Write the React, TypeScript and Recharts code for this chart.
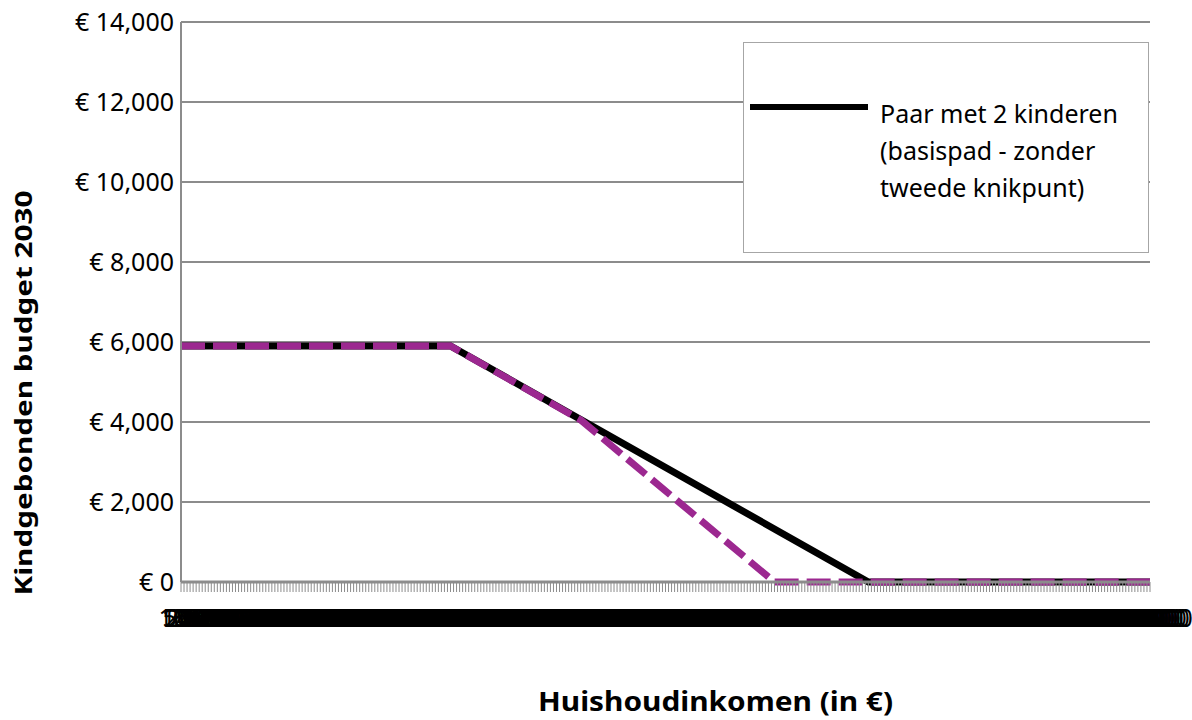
import { LineChart, Line, XAxis, YAxis, CartesianGrid, Legend, Label } from 'recharts'

// huishoudinkomen categories on the x-axis (every € 500)
const incomeTicks = Array.from({ length: 321 }, (_, i) => i * 500)
const budgetTicks = [0, 2000, 4000, 6000, 8000, 10000, 12000, 14000]

// Paar met 2 kinderen (basispad)
const basispadIncome = [0, 44500, 113500, 160000]
const basispadBudget = [5900, 5900, 0, 0]

// variant met tweede knikpunt
const knikIncome = [0, 44500, 66000, 98000, 160000]
const knikBudget = [5900, 5900, 4050, 0, 0]

const legendLines = ['Paar met 2 kinderen', '(basispad - zonder', 'tweede knikpunt)']

const basispad = basispadIncome.map((income, i) => ({ income, value: basispadBudget[i] }))
const knik = knikIncome.map((income, i) => ({ income, value: knikBudget[i] }))

const FONT = '"Noto Sans", "Open Sans", sans-serif'
const GRID = '#8c8c8c'

const euro = (v: number) => `€ ${v.toLocaleString('en-US')}`

const LegendBox = () => (
  <div
    style={{
      position: 'relative',
      width: 406,
      height: 211,
      boxSizing: 'border-box',
      border: '1px solid #a6a6a6',
      background: '#fff',
      fontFamily: FONT,
    }}
  >
    <div style={{ position: 'absolute', left: 6, top: 61, width: 118, height: 6, background: '#000' }} />
    <div
      style={{
        position: 'absolute',
        left: 136,
        top: 52,
        fontSize: 25,
        lineHeight: '37px',
        color: '#000',
        whiteSpace: 'pre',
      }}
    >
      {legendLines.join('\n')}
    </div>
  </div>
)

const YTitle = () => (
  <text
    x={32}
    y={393}
    transform="rotate(-90 32 393)"
    textAnchor="middle"
    fontFamily={FONT}
    fontSize={24}
    fontWeight="bold"
    fill="#000"
    textLength={405}
    lengthAdjust="spacingAndGlyphs"
  >
    Kindgebonden budget 2030
  </text>
)

const XTitle = () => (
  <text
    x={538}
    y={711}
    textAnchor="start"
    fontFamily={FONT}
    fontSize={26}
    fontWeight="bold"
    fill="#000"
    textLength={355}
    lengthAdjust="spacingAndGlyphs"
  >
    Huishoudinkomen (in €)
  </text>
)

export default function App() {
  return (
    <div style={{ position: 'absolute', left: 0, top: 0, background: '#fff' }}>
      <LineChart width={1192} height={720} margin={{ top: 22, right: 42, bottom: 0, left: 0 }}>
        <CartesianGrid vertical={false} stroke={GRID} strokeWidth={2} />
        <XAxis
          dataKey="income"
          type="number"
          domain={[0, 160000]}
          ticks={incomeTicks}
          interval={0}
          height={138}
          stroke={GRID}
          strokeWidth={3}
          tickSize={10}
          tickMargin={17}
          tickLine={{ stroke: GRID, strokeWidth: 1 }}
          tick={{ fill: '#000', fontSize: 25, fontFamily: FONT }}
        >
          <Label content={<XTitle />} />
        </XAxis>
        <YAxis
          domain={[0, 14000]}
          ticks={budgetTicks}
          width={181}
          stroke={GRID}
          strokeWidth={2}
          tickSize={0}
          tickMargin={7}
          tickFormatter={euro}
          tick={{ fill: '#000', fontSize: 25, fontFamily: FONT }}
        >
          <Label content={<YTitle />} />
        </YAxis>
        <Legend
          layout="vertical"
          align="center"
          verticalAlign="middle"
          content={<LegendBox />}
          wrapperStyle={{ left: 743, top: 42, width: 406, height: 211 }}
        />
        <Line
          data={basispad}
          dataKey="value"
          name={legendLines.join(' ')}
          stroke="#000"
          strokeWidth={7}
          dot={false}
          activeDot={false}
          isAnimationActive={false}
        />
        <Line
          data={knik}
          dataKey="value"
          name="Tweede knikpunt"
          legendType="none"
          stroke="#9c2890"
          strokeWidth={7}
          strokeDasharray="24 8"
          dot={false}
          activeDot={false}
          isAnimationActive={false}
        />
      </LineChart>
    </div>
  )
}
